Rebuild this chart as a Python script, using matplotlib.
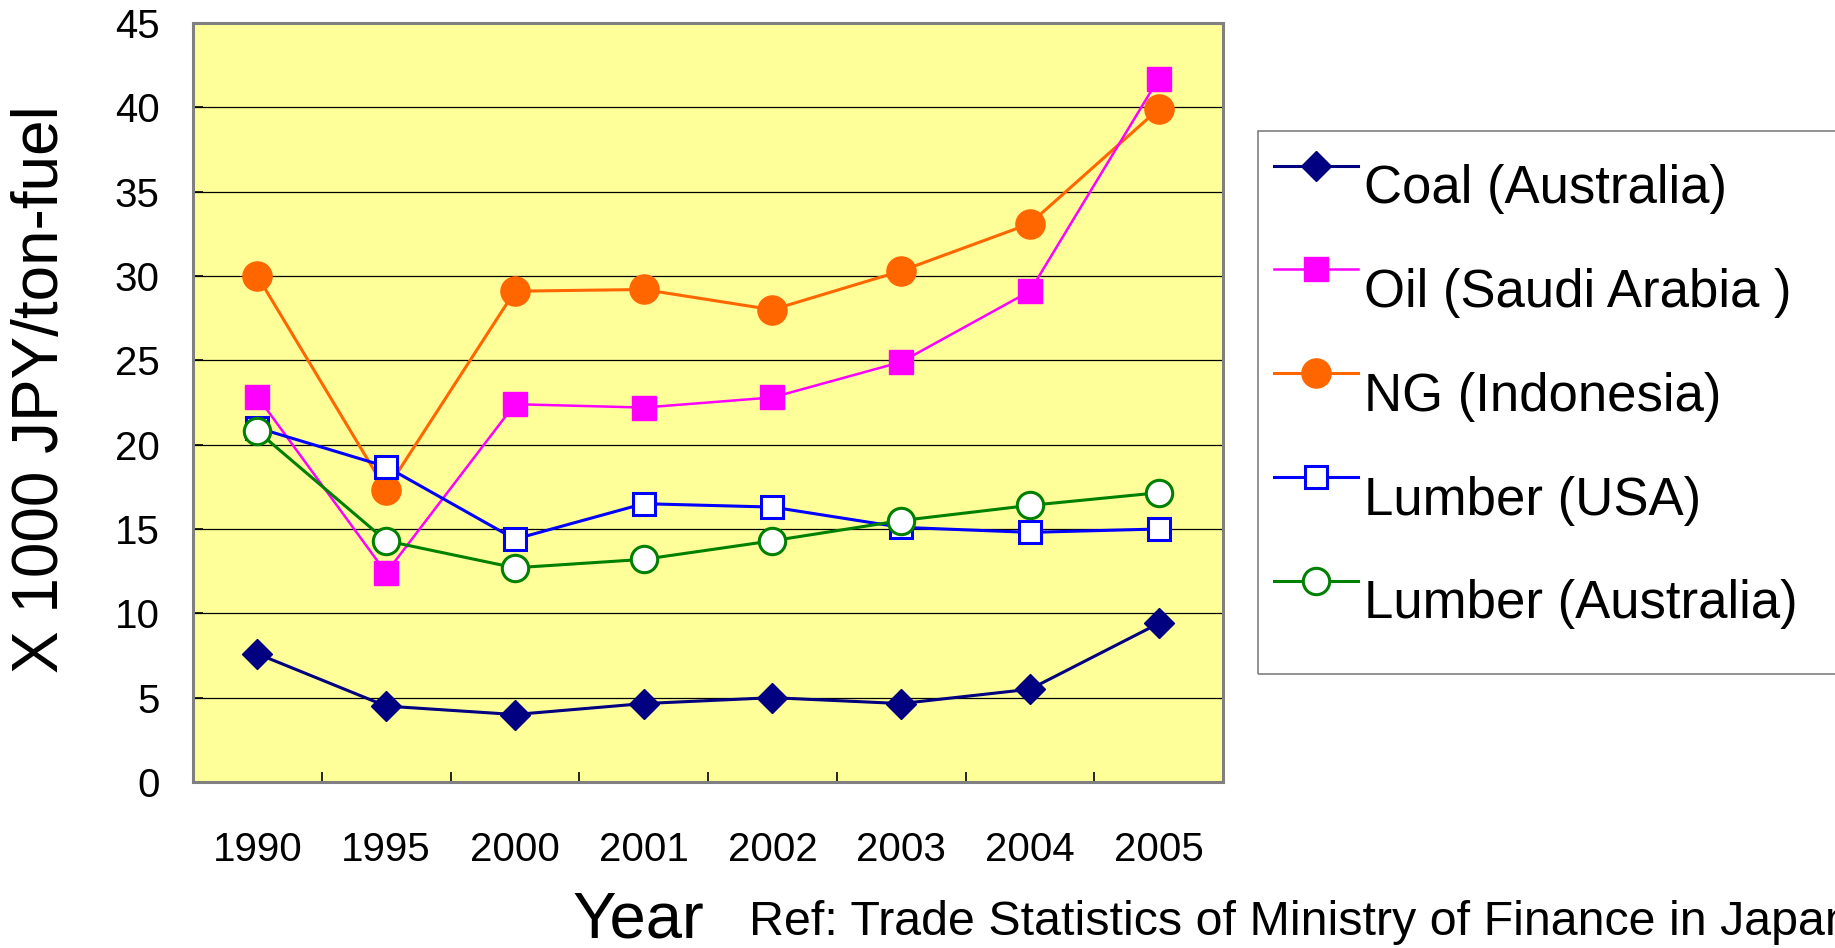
import numpy as np
import matplotlib
matplotlib.use("Agg")
import matplotlib.pyplot as plt
from matplotlib.patches import Rectangle
from matplotlib.legend_handler import HandlerLine2D

plt.rcParams["font.family"] = ["Liberation Sans", "DejaVu Sans"]

years = ["1990", "1995", "2000", "2001", "2002", "2003", "2004", "2005"]
coal_aus = [7.6, 4.5, 4.0, 4.65, 5.0, 4.65, 5.5, 9.4]
oil_saudi = [22.85, 12.4, 22.4, 22.2, 22.8, 24.9, 29.1, 41.7]
ng_indonesia = [30.0, 17.3, 29.1, 29.2, 28.0, 30.3, 33.1, 39.9]
lumber_usa = [21.0, 18.7, 14.4, 16.5, 16.3, 15.1, 14.8, 15.0]
lumber_aus = [20.8, 14.3, 12.7, 13.2, 14.3, 15.5, 16.4, 17.15]


class RaisedLine(HandlerLine2D):
    """Legend handle drawn level with the top of the capitals."""
    def create_artists(self, legend, orig_handle, xdescent, ydescent,
                       width, height, fontsize, trans):
        arts = super().create_artists(legend, orig_handle, xdescent, ydescent,
                                      width, height, fontsize, trans)
        for a in arts:
            a.set_ydata(np.asarray(a.get_ydata()) + 0.36 * fontsize)
        return arts


W, H = 1835, 948
fig = plt.figure(figsize=(W / 100, H / 100), dpi=100)
ax = fig.add_axes([193 / W, 1 - 782 / H, 1030 / W, 759 / H])
ax.set_facecolor("#FFFF99")

x = range(len(years))
lw = 2.2
ax.plot(x, coal_aus, "-D", color="#000080", lw=lw, ms=15, mec="#000080",
        label="Coal (Australia)", zorder=5)
ax.plot(x, lumber_usa, "-s", color="#0000FF", lw=lw, ms=16, mfc="white",
        mec="#0000FF", mew=2.2, label="Lumber (USA)", zorder=4)
ax.plot(x, lumber_aus, "-o", color="#008000", lw=lw, ms=19, mfc="white",
        mec="#008000", mew=2.2, label="Lumber (Australia)", zorder=4)
ax.plot(x, ng_indonesia, "-o", color="#FF6600", lw=lw, ms=21,
        label="NG (Indonesia)", zorder=3)
ax.plot(x, oil_saudi, "-s", color="#FF00FF", lw=1.8, ms=17,
        label="Oil (Saudi Arabia )", zorder=3)

ax.set_xlim(-0.5, len(years) - 0.5)
ax.set_ylim(0, 45)
ax.set_yticks(range(0, 46, 5))
ax.set_xticks(list(x))
ax.set_xticklabels(years)
ax.set_xticks([i + 0.5 for i in range(len(years) - 1)], minor=True)
ax.tick_params(axis="x", which="major", length=0, pad=35, labelsize=29)
ax.tick_params(axis="x", which="minor", direction="in", length=7, width=1.2)
ax.tick_params(axis="y", direction="in", length=7, width=1.2, pad=24,
               labelsize=29)
ax.grid(axis="y", color="black", lw=0.9)
ax.set_axisbelow(True)
for s in ax.spines.values():
    s.set_color("#808080")
    s.set_linewidth(2.2)

fig.text(41 / W, 1 - 389 / H, "X 1000 JPY/ton-fuel", rotation=90,
         ha="center", va="center", fontsize=46)
fig.text(573 / W, 1 - 937 / H, "Year", ha="left", va="baseline", fontsize=47)
fig.text(749 / W, 1 - 935 / H,
         "Ref: Trade Statistics of Ministry of Finance in Japan",
         ha="left", va="baseline", fontsize=34.8)

# legend box runs off the right edge of the figure
fig.patches.append(Rectangle((1258 / W, 1 - 674 / H), 600 / W, 543 / H,
                             transform=fig.transFigure, fill=False,
                             ec="#808080", lw=1.2))
h, l = ax.get_legend_handles_labels()
order = ["Coal (Australia)", "Oil (Saudi Arabia )", "NG (Indonesia)",
         "Lumber (USA)", "Lumber (Australia)"]
hs = [h[l.index(n)] for n in order]
leg = fig.legend(hs, order, loc="upper left",
                 bbox_to_anchor=(1274 / W, 1 - 164 / H),
                 frameon=False, fontsize=38, handlelength=1.6,
                 handletextpad=0.1, labelspacing=1.02,
                 borderpad=0, borderaxespad=0,
                 handler_map={type(hs[0]): RaisedLine(numpoints=1)})

fig.savefig("out.png", dpi=100)
